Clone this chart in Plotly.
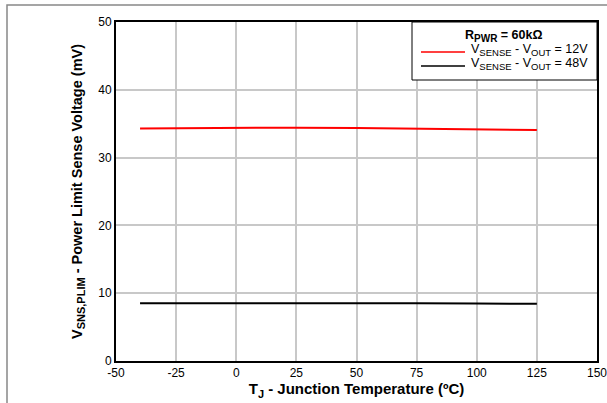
import plotly.graph_objects as go

temps = [-40, -25, 0, 25, 50, 75, 100, 125]
v12 = [34.30, 34.35, 34.40, 34.42, 34.36, 34.28, 34.18, 34.07]
v48 = [8.53, 8.54, 8.55, 8.55, 8.53, 8.50, 8.47, 8.43]
SUB = '<sub><span style="font-size:{s}px">{t}</span></sub>'
names = [
    "V" + SUB.format(s=9.5, t="SENSE") + " - V" + SUB.format(s=9.5, t="OUT") + " = 12V",
    "V" + SUB.format(s=9.5, t="SENSE") + " - V" + SUB.format(s=9.5, t="OUT") + " = 48V",
]
colors = ["#ff0000", "#000000"]
legend_title = "<b>R" + SUB.format(s=10, t="PWR") + " = 60kΩ</b>"
xticks = [-50, -25, 0, 25, 50, 75, 100, 125, 150]
xticktext = ["-50", "-25", "0", "25", "50", "75", "100", "125", "150"]
yticks = [0, 10, 20, 30, 40, 50]

FONT = "Arial, Liberation Sans, sans-serif"

fig = go.Figure()
for y, n, c in zip([v12, v48], names, colors):
    fig.add_trace(go.Scatter(x=temps, y=y, mode="lines", name=n,
                             line=dict(color=c, width=2), showlegend=False))

L, R, T, B = 116, 10, 22, 42
W, H = 607, 403
pw, ph = W - L - R, H - T - B

def px(xp):
    return (xp - L) / pw

def py(yp):
    return (H - B - yp) / ph

shapes = [
    dict(type="rect", xref="paper", yref="paper",
         x0=px(7), x1=1.2, y0=-0.3, y1=py(5),
         line=dict(color="#888888", width=1.5), layer="below"),
    # legend box
    dict(type="rect", xref="paper", yref="paper",
         x0=px(412), x1=1, y0=py(80), y1=1,
         line=dict(color="black", width=1), fillcolor="white", layer="above"),
]
annotations = [
    dict(text=legend_title, xref="paper", yref="paper", x=px(504), y=py(36),
         xanchor="center", yanchor="middle", showarrow=False,
         font=dict(family=FONT, size=12.5)),
]
row_y = [52, 66]
for n, c, ry in zip(names, colors, row_y):
    shapes.append(dict(type="line", xref="paper", yref="paper",
                       x0=px(421), x1=px(465), y0=py(ry), y1=py(ry),
                       line=dict(color=c, width=1.5), layer="above"))
    annotations.append(dict(text=n, xref="paper", yref="paper", x=px(469), y=py(ry - 2),
                            xanchor="left", yanchor="middle", showarrow=False,
                            font=dict(family=FONT, size=12.5)))

fig.update_layout(
    width=W, height=H,
    margin=dict(l=L, r=R, t=T, b=B, autoexpand=False),
    paper_bgcolor="white", plot_bgcolor="white",
    font=dict(family=FONT, size=12, color="black"),
    showlegend=False,
    shapes=shapes,
    annotations=annotations,
)
fig.update_xaxes(
    range=[-50, 150], tickvals=xticks, ticktext=xticktext,
    showgrid=True, gridcolor="#c8c8c8", gridwidth=1.5,
    showline=True, linecolor="black", linewidth=2, mirror=True,
    zeroline=False, ticks="", automargin=False, ticklabeloverflow="allow",
    tickfont=dict(family=FONT, size=12),
    title=dict(text="<b>T" + SUB.format(s=11, t="J") + " - Junction Temperature (ºC)</b>",
               font=dict(family=FONT, size=15), standoff=2),
)
fig.update_yaxes(
    range=[0, 50], tickvals=yticks,
    showgrid=True, gridcolor="#c8c8c8", gridwidth=1.5,
    showline=True, linecolor="black", linewidth=2, mirror=True,
    zeroline=False, ticks="", automargin=False, ticklabeloverflow="allow",
    tickfont=dict(family=FONT, size=12),
    title=dict(text="<b>V" + SUB.format(s=11, t="SNS,PLIM") + " - Power Limit Sense Voltage (mV)</b>",
               font=dict(family=FONT, size=14.5), standoff=12),
)

fig.write_html("out.html",
               config={"displayModeBar": False},
               post_script="document.body.style.margin='0';document.body.style.overflow='hidden';")
